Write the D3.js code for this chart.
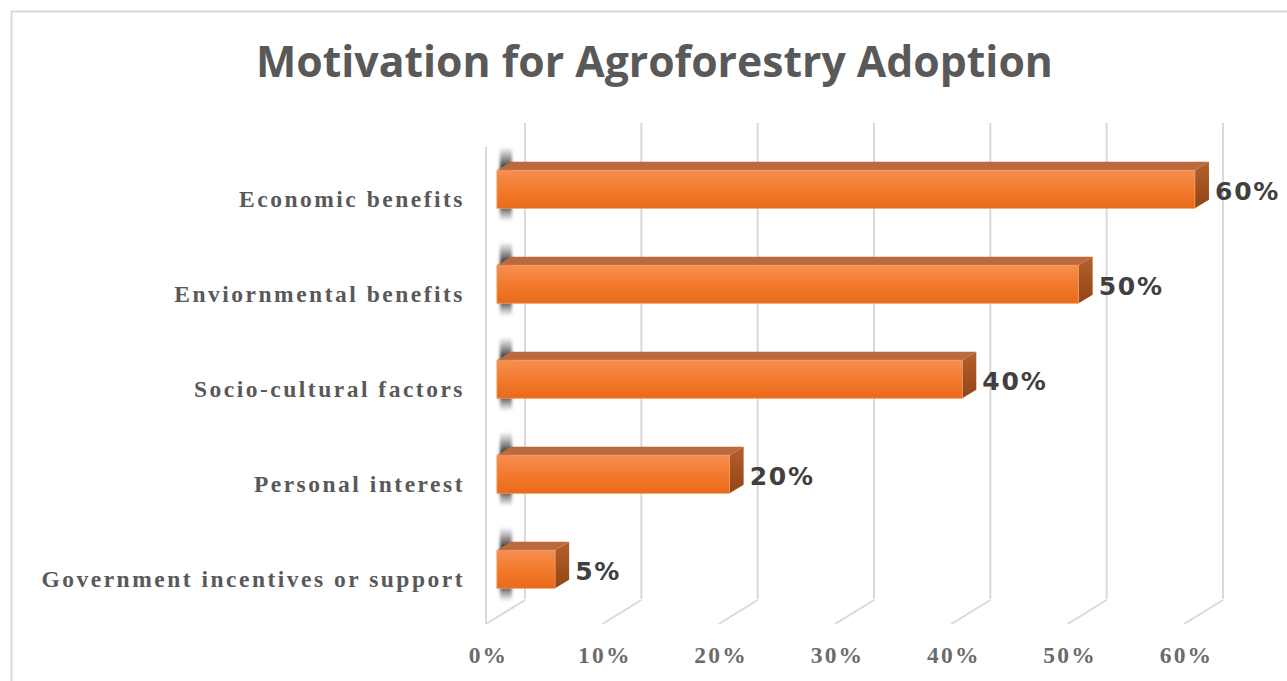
<!DOCTYPE html>
<html><head><meta charset="utf-8">
<script src="https://cdn.jsdelivr.net/npm/d3@7"></script>
<style>html,body{margin:0;padding:0;background:#fff;overflow:hidden}</style>
</head><body>
<svg id="chart" width="1287" height="681"></svg>
<script>
const title = "Motivation for Agroforestry Adoption";
const categories = ["Economic benefits","Enviornmental benefits","Socio-cultural factors","Personal interest","Government incentives or support"];
const values = [60, 50, 40, 20, 5];
const tickValues = [0, 10, 20, 30, 40, 50, 60];
const tickLabels = ["0%","10%","20%","30%","40%","50%","60%"];

const W = 1287, H = 681;
const svg = d3.select("#chart");

// 3D geometry
const DX = 39, DY = -24;
const dFront = 0.28, dBack = 0.64;
const floorY = 624, wallTopFront = 147;
const off = d => [DX * d, DY * d];

const x = d3.scaleLinear().domain([0, 60]).range([486, 1184]);
const y = d3.scaleBand().domain(categories).range([129.5, 642.5]).paddingInner(0.6).paddingOuter(0.5);

const defs = svg.append("defs");
const fg = defs.append("linearGradient").attr("id","front").attr("x1",0).attr("y1",0).attr("x2",0).attr("y2",1);
fg.append("stop").attr("offset","0%").attr("stop-color","#f68f52");
fg.append("stop").attr("offset","45%").attr("stop-color","#f37c30");
fg.append("stop").attr("offset","100%").attr("stop-color","#e86a19");
const sg = defs.append("linearGradient").attr("id","side").attr("x1",0).attr("y1",0).attr("x2",0).attr("y2",1);
sg.append("stop").attr("offset","0%").attr("stop-color","#b5602c");
sg.append("stop").attr("offset","100%").attr("stop-color","#924514");
const shg = defs.append("linearGradient").attr("id","shadow").attr("x1",0).attr("y1",0).attr("x2",0).attr("y2",1);
shg.append("stop").attr("offset","0%").attr("stop-color","#555").attr("stop-opacity",0);
shg.append("stop").attr("offset","28%").attr("stop-color","#333").attr("stop-opacity",1);
shg.append("stop").attr("offset","78%").attr("stop-color","#333").attr("stop-opacity",1);
shg.append("stop").attr("offset","100%").attr("stop-color","#555").attr("stop-opacity",0);
defs.append("filter").attr("id","blur").attr("x","-50%").attr("y","-20%").attr("width","200%").attr("height","140%")
  .append("feGaussianBlur").attr("stdDeviation", 1.6);

// frame
svg.append("rect").attr("x",11.5).attr("y",11.5).attr("width",1300).attr("height",700)
  .attr("fill","none").attr("stroke","#d9d9d9").attr("stroke-width",2);

// title
const t = svg.append("text").attr("x",654.5).attr("y",60).attr("text-anchor","middle")
  .attr("dominant-baseline","central")
  .attr("font-family","'Open Sans', 'Noto Sans', sans-serif").attr("font-weight",700)
  .attr("font-size",36).attr("fill","#595959").text(title);
const tw = t.node().getComputedTextLength();
t.attr("font-size", 36 * 797 / tw);

const grid = svg.append("g").attr("stroke","#d9d9d9").attr("stroke-width",2).attr("fill","none");
grid.selectAll("line.back").data(tickValues).join("line").attr("class","back")
  .attr("x1", d => x(d) + DX).attr("x2", d => x(d) + DX)
  .attr("y1", floorY + DY - 1).attr("y2", wallTopFront + DY);
grid.selectAll("line.floor").data(tickValues).join("line").attr("class","floor")
  .attr("x1", d => x(d)).attr("y1", floorY)
  .attr("x2", d => x(d) + DX).attr("y2", floorY + DY);
grid.append("line").attr("x1", x(0)).attr("x2", x(0)).attr("y1", wallTopFront).attr("y2", floorY);

const bars = svg.append("g");
categories.forEach((c, i) => {
  const v = values[i];
  const [fx, fy] = off(dFront);
  const [bx, by] = off(dBack);
  const x0 = x(0) + fx, x1 = x(v) + fx;
  const yt = y(c) + fy, yb = y(c) + y.bandwidth() + fy;
  const ddx = bx - fx, ddy = by - fy;

  bars.append("rect").attr("x", x0 + 3).attr("y", yt + ddy - 15).attr("width", 12)
    .attr("height", (yb - yt) - ddy + 28).attr("fill","url(#shadow)").attr("filter","url(#blur)");

  bars.append("path").attr("d", d3.line()([[x0, yt],[x1, yt],[x1+ddx, yt+ddy],[x0+ddx, yt+ddy]]) + "Z")
    .attr("fill","#bb6a40");
  bars.append("path").attr("d", d3.line()([[x1, yt],[x1+ddx, yt+ddy],[x1+ddx, yb+ddy],[x1, yb]]) + "Z")
    .attr("fill","url(#side)");
  bars.append("rect").attr("x", x0).attr("y", yt).attr("width", x1 - x0).attr("height", yb - yt)
    .attr("fill","url(#front)").attr("stroke","#f29a63").attr("stroke-width",0.8);

  bars.append("text").attr("x", x(v) + bx + 6).attr("y", (yt + yb) / 2 + 2)
    .attr("dominant-baseline","central")
    .attr("font-family","'DejaVu Sans', Verdana, sans-serif").attr("font-weight",700)
    .attr("font-size",25).attr("letter-spacing","1.8px").attr("fill","#404040")
    .text(v + "%");
});

svg.append("g").selectAll("text").data(categories).join("text")
  .attr("x", 465).attr("y", d => y(d) + y.bandwidth() / 2 + 3)
  .attr("text-anchor","end").attr("dominant-baseline","central")
  .attr("font-family","'Liberation Serif', 'Times New Roman', serif").attr("font-weight",700)
  .attr("font-size",23.5).attr("letter-spacing","2.5px").attr("fill","#595959")
  .text(d => d);

const axis = d3.axisBottom(x).tickValues(tickValues).tickSize(0).tickPadding(0)
  .tickFormat((d, i) => tickLabels[i]);
const ag = svg.append("g").attr("transform", `translate(2,655)`).call(axis);
ag.select(".domain").remove();
ag.selectAll("text").attr("y", 0).attr("dy", null).attr("dominant-baseline","central")
  .attr("font-family","'Liberation Serif', 'Times New Roman', serif").attr("font-weight",700)
  .attr("font-size",23.5).attr("letter-spacing","2.2px").attr("fill","#6b6b6b");
</script>
</body></html>
